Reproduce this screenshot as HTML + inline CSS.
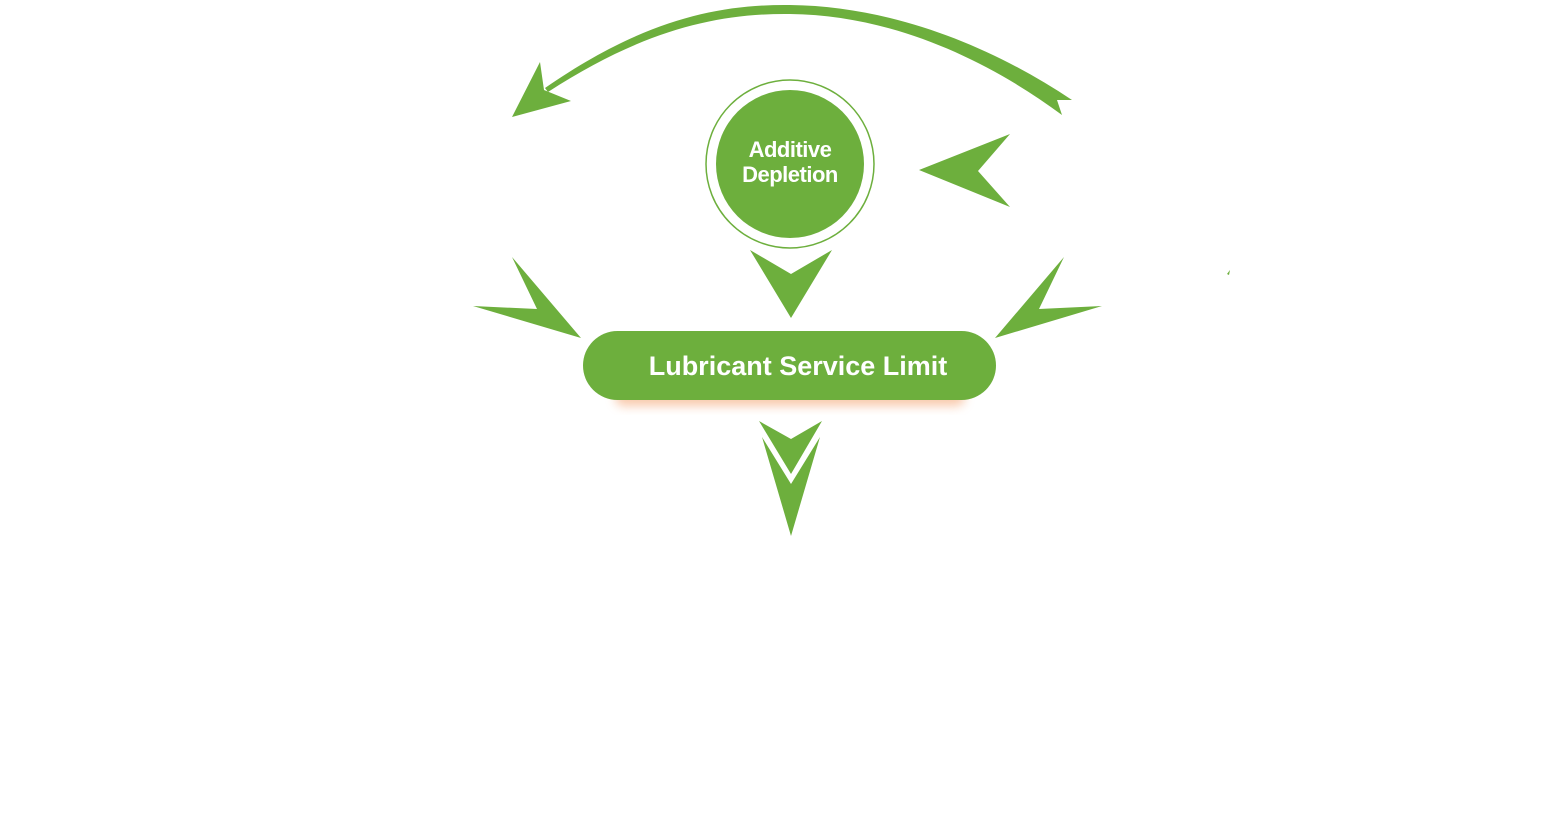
<!DOCTYPE html>
<html><head><style>
html,body{margin:0;padding:0;background:#fff;}
svg{display:block}
text{font-family:"Liberation Sans",sans-serif;font-weight:bold;fill:#fff}
</style></head><body>
<svg width="1558" height="817" viewBox="0 0 1558 817">
<defs>
<filter id="sh" x="-20%" y="-50%" width="140%" height="200%"><feGaussianBlur stdDeviation="5"/></filter>
</defs>
<g fill="#6daf3d">
<path d="M545,88 C640,22 715,4 790,5 C890,6 990,45 1072,100 L1057,100 L1062,115 C985,58 890,15 790,14 C715,13 640,32 548,92 Z"/>
<polygon points="540,62 544,90 571,101 512,117"/>
<polygon points="1010,134 919,170 1010,207 978,171"/>
<polygon points="750,250 791,274 832,250 791,318"/>
<polygon points="512,257 537,309 473,306 581,338"/>
<polygon points="1064,257 1039,309 1102,306 995,338"/>
<polygon points="759,421 791,439 822,421 791,474"/>
<polygon points="762,437 791,484 820,437 791,536"/>
<polygon points="1227,274 1230,270 1229,275"/>
</g>
<circle cx="790" cy="164" r="84" fill="none" stroke="#6daf3d" stroke-width="1.5"/>
<circle cx="790" cy="164" r="74" fill="#6daf3d"/>
<text x="790" y="157" font-size="22" text-anchor="middle" letter-spacing="-0.5">Additive</text>
<text x="790" y="182" font-size="22" text-anchor="middle" letter-spacing="-0.5">Depletion</text>
<rect x="615" y="388" width="350" height="18" rx="9" fill="#f6b48a" opacity="0.7" filter="url(#sh)"/>
<rect x="583" y="331" width="413" height="69" rx="34.5" fill="#6daf3d"/>
<text x="798" y="375" font-size="27" text-anchor="middle">Lubricant Service Limit</text>
</svg>
</body></html>
